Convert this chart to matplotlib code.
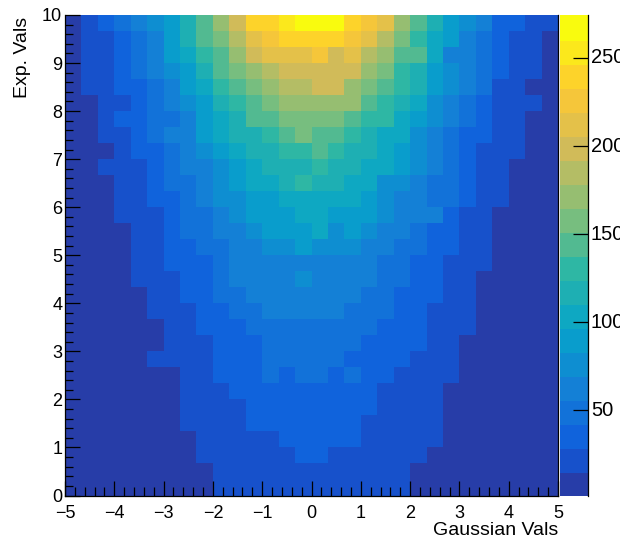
import numpy as np
import matplotlib
matplotlib.use('Agg')
from matplotlib import pyplot as plt
from matplotlib.colors import ListedColormap, BoundaryNorm, LinearSegmentedColormap
from matplotlib.ticker import MultipleLocator
from matplotlib.transforms import Bbox, blended_transform_factory

plt.rcParams['font.family'] = ['Liberation Sans', 'DejaVu Sans']

# counts per bin, first row is the top of the plot (y = 10)
counts = [
    [8, 22, 36, 49, 63, 76, 90, 117, 144, 171, 199, 240, 240, 253, 267, 267, 267, 240, 226, 212, 171, 144, 117, 90, 76, 63, 36, 36, 22, 22],
    [8, 22, 22, 36, 49, 63, 90, 117, 144, 158, 185, 212, 226, 240, 240, 240, 240, 226, 212, 185, 158, 131, 104, 90, 63, 49, 36, 22, 22, 8],
    [8, 22, 22, 36, 49, 63, 90, 104, 131, 144, 171, 199, 212, 212, 212, 226, 199, 212, 185, 171, 144, 144, 104, 63, 63, 49, 36, 22, 22, 8],
    [8, 22, 22, 36, 49, 63, 76, 90, 117, 144, 158, 171, 185, 199, 199, 199, 199, 199, 171, 158, 131, 117, 90, 76, 63, 49, 36, 22, 22, 8],
    [8, 22, 22, 36, 36, 49, 63, 90, 104, 131, 144, 158, 171, 185, 185, 199, 199, 171, 158, 144, 131, 117, 90, 76, 63, 49, 22, 22, 8, 8],
    [8, 8, 22, 22, 36, 49, 63, 76, 90, 117, 131, 144, 158, 171, 171, 171, 171, 171, 144, 131, 117, 104, 76, 63, 49, 36, 22, 22, 22, 8],
    [8, 8, 22, 36, 36, 49, 49, 63, 90, 104, 117, 144, 144, 158, 158, 158, 158, 144, 131, 131, 104, 90, 76, 63, 49, 36, 22, 22, 8, 8],
    [8, 8, 22, 22, 36, 49, 63, 63, 90, 104, 117, 117, 131, 144, 158, 144, 144, 131, 117, 104, 104, 76, 63, 49, 36, 36, 22, 22, 8, 8],
    [8, 8, 8, 22, 36, 36, 49, 63, 76, 90, 104, 117, 117, 131, 131, 144, 131, 117, 117, 104, 90, 76, 63, 49, 36, 22, 22, 22, 8, 8],
    [8, 8, 22, 22, 22, 36, 49, 63, 63, 76, 90, 104, 117, 117, 117, 131, 117, 117, 104, 104, 90, 76, 63, 49, 36, 22, 22, 8, 8, 8],
    [8, 8, 8, 22, 22, 36, 49, 49, 63, 76, 90, 104, 104, 117, 131, 117, 117, 104, 104, 76, 76, 63, 49, 49, 36, 22, 22, 8, 8, 8],
    [8, 8, 8, 22, 22, 36, 36, 49, 63, 76, 76, 90, 90, 104, 104, 104, 104, 104, 90, 76, 63, 63, 49, 49, 36, 22, 22, 8, 8, 8],
    [8, 8, 8, 22, 22, 22, 36, 49, 49, 63, 76, 90, 90, 90, 104, 104, 90, 90, 90, 76, 63, 63, 63, 36, 22, 22, 8, 8, 8, 8],
    [8, 8, 8, 8, 22, 22, 36, 49, 49, 63, 63, 76, 90, 90, 90, 104, 76, 90, 76, 63, 63, 49, 36, 36, 22, 22, 8, 8, 8, 8],
    [8, 8, 8, 8, 22, 22, 36, 36, 49, 49, 63, 63, 76, 76, 90, 76, 76, 76, 63, 63, 49, 49, 36, 36, 22, 22, 8, 8, 8, 8],
    [8, 8, 8, 8, 22, 22, 36, 36, 36, 49, 63, 63, 63, 63, 63, 63, 63, 63, 63, 49, 49, 36, 36, 22, 22, 22, 8, 8, 8, 8],
    [8, 8, 8, 8, 22, 22, 22, 36, 36, 49, 63, 63, 63, 63, 76, 63, 63, 63, 63, 49, 49, 36, 36, 22, 22, 8, 8, 8, 8, 8],
    [8, 8, 8, 8, 8, 22, 22, 36, 36, 49, 49, 63, 63, 63, 63, 63, 63, 63, 49, 49, 36, 36, 36, 22, 22, 8, 8, 8, 8, 8],
    [8, 8, 8, 8, 8, 22, 22, 22, 36, 36, 49, 49, 63, 63, 63, 63, 63, 49, 49, 49, 36, 36, 22, 22, 22, 8, 8, 8, 8, 8],
    [8, 8, 8, 8, 8, 8, 22, 22, 36, 36, 36, 49, 49, 49, 49, 49, 49, 49, 49, 36, 36, 36, 22, 22, 22, 8, 8, 8, 8, 8],
    [8, 8, 8, 8, 8, 8, 22, 22, 22, 36, 36, 36, 49, 49, 49, 49, 49, 49, 36, 36, 36, 36, 22, 22, 8, 8, 8, 8, 8, 8],
    [8, 8, 8, 8, 8, 22, 22, 22, 22, 36, 36, 36, 49, 49, 49, 49, 49, 36, 36, 36, 36, 22, 22, 22, 8, 8, 8, 8, 8, 8],
    [8, 8, 8, 8, 8, 8, 8, 22, 22, 36, 36, 36, 49, 36, 49, 49, 36, 49, 36, 36, 22, 22, 22, 22, 8, 8, 8, 8, 8, 8],
    [8, 8, 8, 8, 8, 8, 8, 22, 22, 22, 36, 36, 36, 36, 36, 36, 36, 36, 36, 22, 22, 22, 22, 8, 8, 8, 8, 8, 8, 8],
    [8, 8, 8, 8, 8, 8, 8, 22, 22, 22, 22, 36, 36, 36, 36, 36, 36, 36, 36, 22, 22, 22, 22, 8, 8, 8, 8, 8, 8, 8],
    [8, 8, 8, 8, 8, 8, 8, 22, 22, 22, 22, 36, 36, 36, 36, 36, 36, 36, 22, 22, 22, 22, 22, 8, 8, 8, 8, 8, 8, 8],
    [8, 8, 8, 8, 8, 8, 8, 8, 22, 22, 22, 22, 22, 36, 36, 36, 36, 36, 22, 22, 22, 22, 22, 8, 8, 8, 8, 8, 8, 8],
    [8, 8, 8, 8, 8, 8, 8, 8, 22, 22, 22, 22, 22, 22, 36, 36, 22, 22, 22, 22, 22, 22, 8, 8, 8, 8, 8, 8, 8, 8],
    [8, 8, 8, 8, 8, 8, 8, 8, 8, 22, 22, 22, 22, 22, 22, 22, 22, 22, 22, 22, 22, 8, 8, 8, 8, 8, 8, 8, 8, 8],
    [8, 8, 8, 8, 8, 8, 8, 8, 8, 22, 22, 22, 22, 22, 22, 22, 22, 22, 22, 22, 22, 8, 8, 8, 8, 8, 8, 8, 8, 8],
]
x_edges = np.linspace(-5, 5, 31)
y_edges = np.linspace(0, 10, 31)
z_min = 1.7
z_max = 274.4
n_levels = 20
z_ticks = [50, 100, 150, 200, 250]

# ROOT's kBird palette
bird = [(0.2082, 0.1664, 0.5293), (0.0592, 0.3599, 0.8684), (0.0780, 0.5041, 0.8385),
        (0.0232, 0.6419, 0.7914), (0.1802, 0.7178, 0.6425), (0.5301, 0.7492, 0.4662),
        (0.8186, 0.7328, 0.3499), (0.9956, 0.7862, 0.1968), (0.9764, 0.9832, 0.0539)]
bird_map = LinearSegmentedColormap.from_list('bird', bird, N=255)
band_colors = [bird_map((k + 1) / n_levels) for k in range(n_levels)]
cmap = ListedColormap(band_colors)
levels = np.linspace(z_min, z_max, n_levels + 1)
norm = BoundaryNorm(levels, cmap.N)

W, H = 634, 539
fig = plt.figure(figsize=(W / 100, H / 100), dpi=100)
ax = fig.add_axes([65 / W, 1 - 495.5 / H, 493 / W, 480.5 / H])
cax = fig.add_axes([560 / W, 1 - 495.5 / H, 28 / W, 480.5 / H])

z = np.flipud(np.array(counts, dtype=float))
mesh = ax.pcolormesh(x_edges, y_edges, z, cmap=cmap, norm=norm)
ax.set_xlim(-5, 5)
ax.set_ylim(0, 10)

ax.xaxis.set_major_locator(MultipleLocator(1))
ax.xaxis.set_minor_locator(MultipleLocator(0.2))
ax.yaxis.set_major_locator(MultipleLocator(1))
ax.yaxis.set_minor_locator(MultipleLocator(0.2))
ax.tick_params(which='major', direction='in', length=10.8, width=0.9, labelsize=13)
ax.tick_params(axis='x', which='major', pad=6.5)
ax.tick_params(axis='y', which='major', pad=2)
ax.tick_params(axis='x', which='minor', direction='in', length=6.5, width=0.9)
ax.tick_params(axis='y', which='minor', direction='in', length=5.5, width=0.9)
ax.spines['top'].set_visible(False)
for side in ['left', 'right', 'bottom']:
    ax.spines[side].set_linewidth(0.9)

ax.set_xlabel('Gaussian Vals', fontsize=14)
ax.xaxis.set_label_coords(1.0, -26 / 480, transform=ax.transAxes)
ax.xaxis.get_label().set_ha('right')
ax.set_ylabel('Exp. Vals', fontsize=14)
ax.yaxis.set_label_coords(-34 / 493, 0.996, transform=ax.transAxes)
ax.yaxis.get_label().set_ha('right')

cb = fig.colorbar(mesh, cax=cax, spacing='proportional', ticks=z_ticks)
cb.outline.set_visible(False)
cax.minorticks_off()
cax.tick_params(which='major', direction='in', length=10.8, width=0.9, labelright=False)
cb.solids.set_edgecolor('face')
cax.plot([1, 1], [0, 1], transform=cax.transAxes, color='black', lw=0.9, clip_on=False)

# the colour bar labels run off the pad at x = 620 in the original
cut = Bbox([[0, 0], [620, H]])
label_tr = blended_transform_factory(fig.transFigure, cax.transData)
for tick in z_ticks:
    fig.text(591 / W, tick, str(tick), transform=label_tr, va='center', ha='left',
             fontsize=14.5, clip_on=True, clip_box=cut)

fig.savefig('out.png', dpi=100)
